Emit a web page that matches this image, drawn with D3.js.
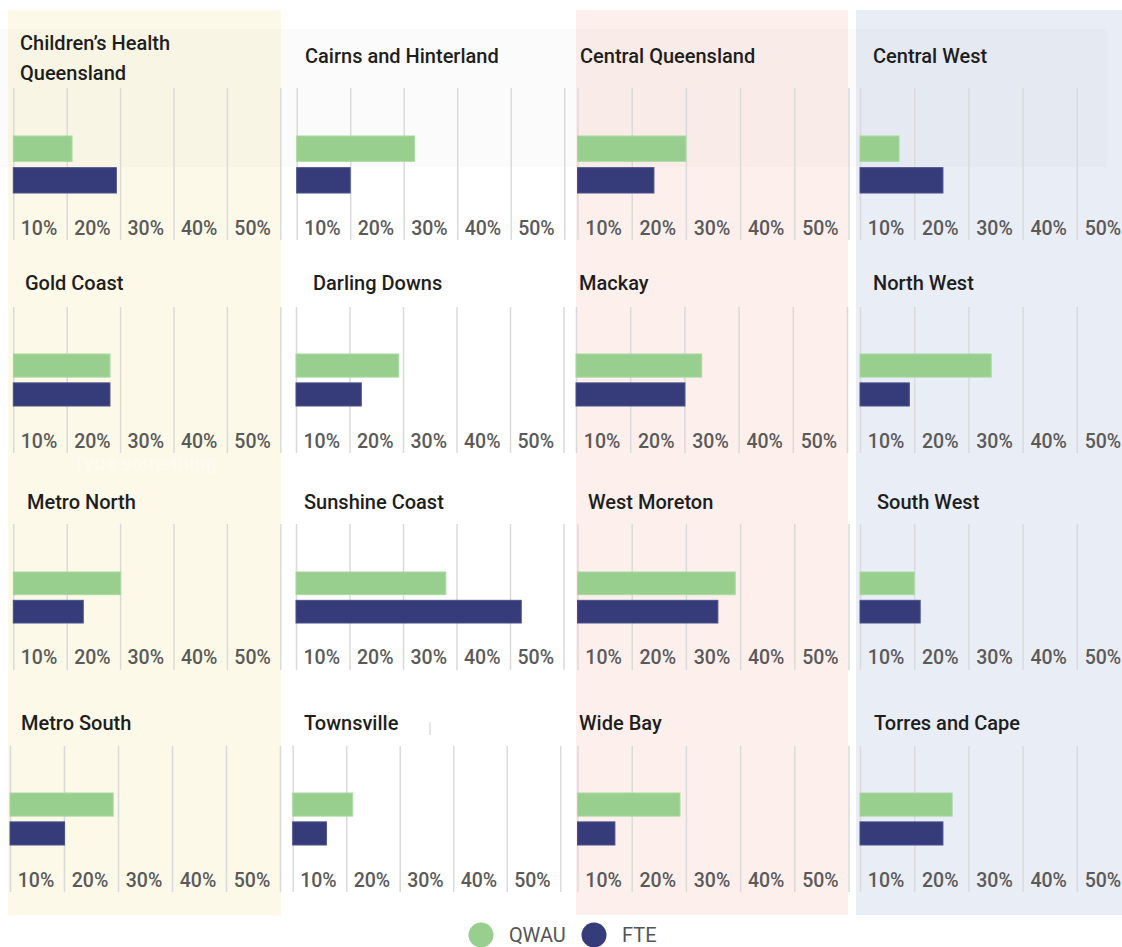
<!DOCTYPE html>
<html>
<head>
<meta charset="utf-8">
<script src="https://cdn.jsdelivr.net/npm/d3@7"></script>
<style>
  body { margin: 0; background: #fff; }
  svg { display: block; font-family: Roboto, "Noto Sans", sans-serif; }
</style>
</head>
<body>
<div id="chart"></div>
<script>
// hospital regions, row by row (4 columns)
const regions = [
  "Children’s Health Queensland", "Cairns and Hinterland", "Central Queensland", "Central West",
  "Gold Coast", "Darling Downs", "Mackay", "North West",
  "Metro North", "Sunshine Coast", "West Moreton", "South West",
  "Metro South", "Townsville", "Wide Bay", "Torres and Cape"
]
const qwau = [11.0, 22.0, 20.0, 7.2, 18.1, 19.2, 23.2, 24.2, 20.1, 28.0, 29.1, 10.0, 19.1, 11.2, 18.9, 17.0]
const fte = [19.3, 10.0, 14.1, 15.3, 18.1, 12.2, 20.1, 9.1, 13.1, 42.1, 25.9, 11.1, 10.1, 6.3, 6.9, 15.3]
const series = ["QWAU", "FTE"]
const gridValues = [0, 10, 20, 30, 40, 50]
const tickLabels = ["10%", "20%", "30%", "40%", "50%"]

const colors = { QWAU: "#98cf8e", FTE: "#363c79" }

// layout of the hand placed panels
const rows = [
  { title: 63, gridTop: 88, gridBottom: 240, barTop: 136, barBottom: 193, label: 228 },
  { title: 290, gridTop: 307, gridBottom: 453, barTop: 354, barBottom: 406, label: 441 },
  { title: 509, gridTop: 524, gridBottom: 670, barTop: 572, barBottom: 623, label: 657 },
  { title: 730, gridTop: 746, gridBottom: 892, barTop: 793, barBottom: 845, label: 880 }
]
const panelX0 = [13.3, 296.7, 577.5, 860, 13.3, 296, 576, 860, 13.3, 296, 577.5, 860, 10, 292.7, 577.5, 860]
const colStep = [53.4, 53.5, 54.2, 54.2]
const titleX = [20, 305, 580, 873, 25, 313, 579, 873, 27, 304, 588, 877, 21, 304, 579, 874]

const width = 1122, height = 947

const svg = d3.select("#chart").append("svg")
  .attr("width", width)
  .attr("height", height)

// column backgrounds
const bgs = [
  { x: 8, w: 273, fill: "#fdf9e8" },
  { x: 576, w: 272, fill: "#fdf0ec" },
  { x: 856, w: 266, fill: "#e9edf5" }
]
svg.selectAll("rect.bg")
  .data(bgs)
  .enter()
  .append("rect")
  .attr("class", "bg")
  .attr("x", d => d.x)
  .attr("y", 10)
  .attr("width", d => d.w)
  .attr("height", 905)
  .attr("fill", d => d.fill)

// faint band across the top row
svg.append("rect")
  .attr("x", 0).attr("y", 29)
  .attr("width", 1107).attr("height", 138)
  .attr("fill", "#000").attr("opacity", 0.014)

// leftover placeholder text
svg.append("text")
  .attr("x", 145).attr("y", 470)
  .attr("text-anchor", "middle")
  .attr("font-size", 20).attr("font-weight", 700)
  .attr("fill", "#fff").attr("opacity", 0.3)
  .text("Type something")

svg.append("line")
  .attr("x1", 430).attr("x2", 430).attr("y1", 722).attr("y2", 735)
  .attr("stroke", "#ccc")

regions.forEach((name, i) => {
  let col = i % 4
  let r = rows[Math.floor(i / 4)]
  let step = colStep[col]
  if (i == 12) step = 54

  let x = d3.scaleLinear()
    .domain([0, 50])
    .range([panelX0[i], panelX0[i] + 5 * step])

  let y = d3.scaleBand()
    .domain(series)
    .range([r.barTop, r.barBottom])
    .paddingInner(0.2)

  let g = svg.append("g")

  // gridlines
  g.append("g")
    .attr("transform", "translate(0," + r.gridBottom + ")")
    .call(d3.axisBottom(x).tickValues(gridValues).tickSize(-(r.gridBottom - r.gridTop)).tickFormat(""))
    .call(a => a.select(".domain").remove())
    .call(a => a.selectAll("line").attr("stroke", "#dadada").attr("stroke-width", 1.5))

  // tick labels sit between gridlines
  g.selectAll("text.tick-label")
    .data(tickLabels)
    .enter()
    .append("text")
    .attr("class", "tick-label")
    .attr("x", (d, k) => x(gridValues[k] + 5) - 1)
    .attr("y", r.label)
    .attr("dy", "0.35em")
    .attr("text-anchor", "middle")
    .attr("font-size", 19.5)
    .attr("font-weight", 500)
    .attr("fill", "#5a5a5a")
    .text(d => d)

  let vals = [{ s: "QWAU", v: qwau[i] }, { s: "FTE", v: fte[i] }]
  g.selectAll("rect.bar")
    .data(vals)
    .enter()
    .append("rect")
    .attr("class", "bar")
    .attr("x", x(0))
    .attr("y", d => y(d.s))
    .attr("width", d => x(d.v) - x(0))
    .attr("height", y.bandwidth())
    .attr("fill", d => colors[d.s])
    .attr("stroke", d => d.s == "QWAU" ? "#a8d9a0" : "#4a508a")
    .attr("stroke-width", 1)

  // title, wrapped when too long
  let title = g.append("text")
    .attr("x", titleX[i])
    .attr("y", r.title)
    .attr("font-size", 20)
    .attr("font-weight", 500)
    .attr("fill", "#1e1e1e")
    .text(name)
  if (title.node().getComputedTextLength() > 235) {
    let words = name.split(" ")
    title.text("")
    title.append("tspan").attr("x", titleX[i]).attr("y", r.title - 13).text(words.slice(0, 2).join(" "))
    title.append("tspan").attr("x", titleX[i]).attr("y", r.title + 17).text(words.slice(2).join(" "))
  }
})

// legend
let legend = svg.append("g")
  .selectAll("g")
  .data(series)
  .enter()
  .append("g")
  .attr("transform", (d, i) => "translate(" + (481 + i * 113) + ",935)")

legend.append("circle")
  .attr("r", 12.5)
  .attr("fill", d => colors[d])

legend.append("text")
  .attr("x", 28)
  .attr("dy", "0.35em")
  .attr("font-size", 20)
  .attr("fill", "#555")
  .text(d => d)
</script>
</body>
</html>
